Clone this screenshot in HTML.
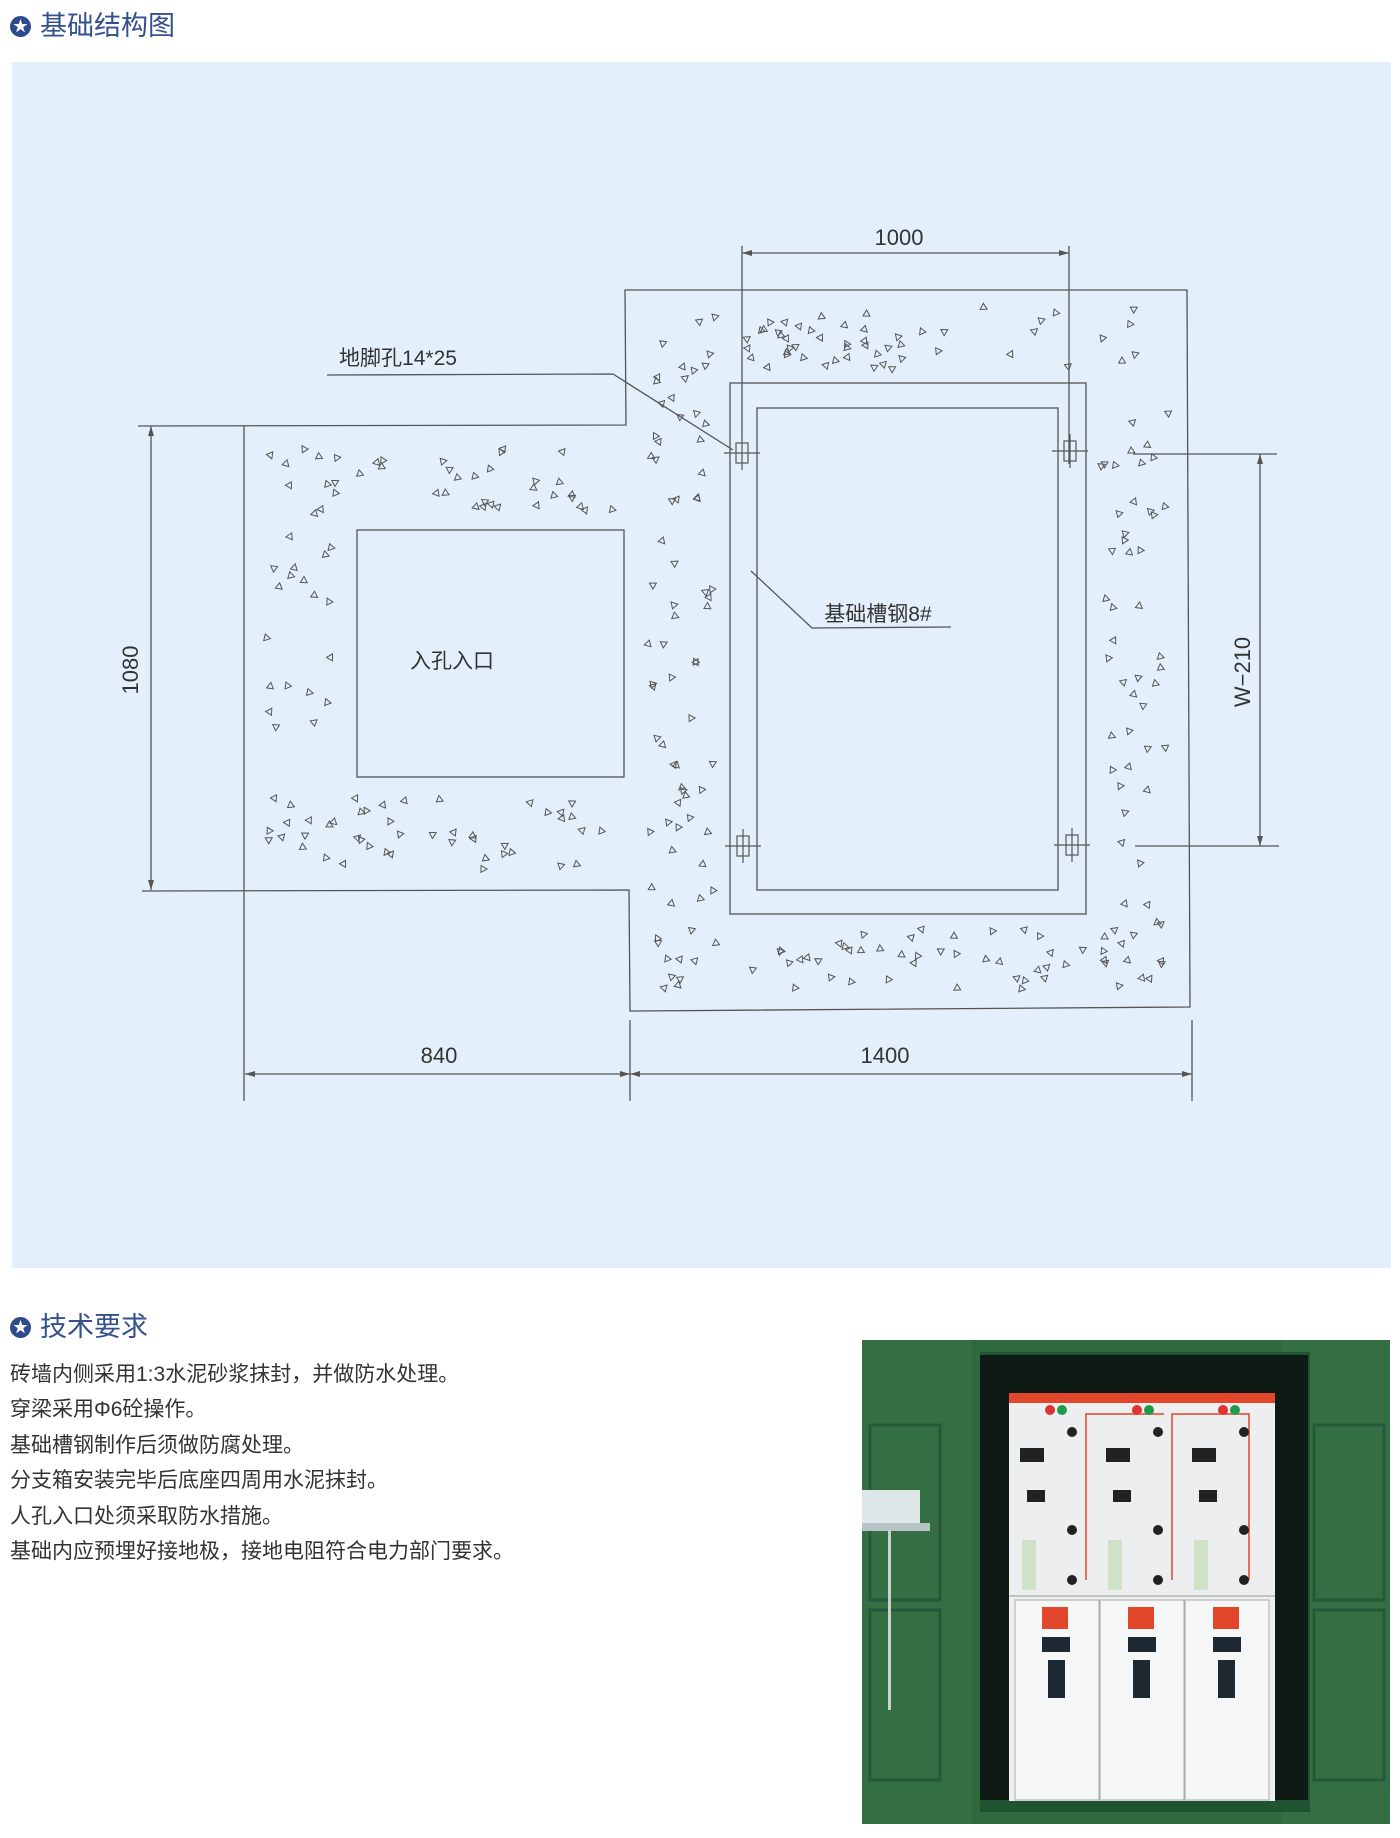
<!DOCTYPE html>
<html><head><meta charset="utf-8"><style>
html,body{margin:0;padding:0;background:#fff;width:1400px;height:1838px;overflow:hidden;position:relative;font-family:"Liberation Sans","Noto Sans CJK SC",sans-serif;}
.h{position:absolute;left:10px;color:#34508f;font-size:27px;line-height:32px;display:flex;align-items:center;}
.star{width:21px;height:21px;border-radius:50%;background:#2c4a8c;color:#fff;font-size:15px;line-height:21px;text-align:center;margin-right:9px;}
.t{position:absolute;left:10px;font-size:21px;color:#333;line-height:26px;white-space:nowrap;}
</style></head><body>
<div class="h" style="top:10px"><span class="star">★</span>基础结构图</div>
<div style="position:absolute;left:12px;top:62px;width:1379px;height:1206px;background:#e3f0fb"></div>
<svg id="d" width="1400" height="1300" style="position:absolute;left:-2px;top:-1px" font-family="Liberation Sans,Noto Sans CJK SC,sans-serif">
<g fill="none" stroke="#555" stroke-width="1.3">
<polyline points="140,427 628,426 627,291 1189,291 1192,1008 632,1012 631,891 144,892"/>
<line x1="246" y1="427" x2="246" y2="1102"/>
<rect x="359" y="531" width="267" height="247"/>
<rect x="732" y="384" width="356" height="531"/>
<rect x="759" y="409" width="301" height="482"/>
<line x1="744" y1="247" x2="744" y2="438"/><line x1="1071" y1="247" x2="1071" y2="465"/>
<line x1="744" y1="254" x2="1071" y2="254"/>
<line x1="153" y1="427" x2="153" y2="891"/>
<line x1="1135" y1="455" x2="1279" y2="455"/><line x1="1137" y1="847" x2="1281" y2="847"/>
<line x1="1262" y1="455" x2="1262" y2="847"/>
<line x1="247" y1="1075" x2="1194" y2="1075"/>
<line x1="632" y1="1021" x2="632" y2="1102"/><line x1="1194" y1="1021" x2="1194" y2="1102"/>
<polyline points="329,376 615,375 735,451"/>
<polyline points="753,572 814,629 953,628"/>
</g>
<g fill="#555">
<polygon points="744,254 754,251 754,257"/><polygon points="1071,254 1061,251 1061,257"/>
<polygon points="153,427 150,437 156,437"/><polygon points="153,891 150,881 156,881"/>
<polygon points="1262,455 1259,465 1265,465"/><polygon points="1262,847 1259,837 1265,837"/>
<polygon points="247,1075 257,1072 257,1078"/><polygon points="632,1075 622,1072 622,1078"/>
<polygon points="632,1075 642,1072 642,1078"/><polygon points="1194,1075 1184,1072 1184,1078"/>
</g>
<g id="bolts" fill="none" stroke="#555" stroke-width="1.2"></g>
<g id="tri" fill="none" stroke="#555" stroke-width="1"></g>
<g fill="#333" font-size="22">
<text x="901" y="246" text-anchor="middle">1000</text>
<text x="441" y="1064" text-anchor="middle">840</text>
<text x="887" y="1064" text-anchor="middle">1400</text>
<text x="400" y="366" text-anchor="middle" font-size="21">地脚孔14*25</text>
<text x="880" y="622" text-anchor="middle" font-size="21">基础槽钢8#</text>
<text x="454" y="669" text-anchor="middle" font-size="21">入孔入口</text>
<text transform="translate(140,671) rotate(-90)" text-anchor="middle">1080</text>
<text transform="translate(1252,673) rotate(-90)" text-anchor="middle">W−210</text>
</g>
</svg>
<div class="h" style="top:1311px"><span class="star">★</span>技术要求</div>
<div class="t" style="top:1362px">砖墙内侧采用1:3水泥砂浆抹封，并做防水处理。</div>
<div class="t" style="top:1397px">穿梁采用Φ6砼操作。</div>
<div class="t" style="top:1433px">基础槽钢制作后须做防腐处理。</div>
<div class="t" style="top:1468px">分支箱安装完毕后底座四周用水泥抹封。</div>
<div class="t" style="top:1504px">人孔入口处须采取防水措施。</div>
<div class="t" style="top:1539px">基础内应预埋好接地极，接地电阻符合电力部门要求。</div>
<svg width="528" height="484" style="position:absolute;left:862px;top:1340px">
<rect width="528" height="484" fill="#2f6a3e"/>
<rect x="0" y="0" width="110" height="484" fill="#336f42"/>
<rect x="420" y="0" width="108" height="484" fill="#336f42"/>
<rect x="8" y="85" width="70" height="175" fill="none" stroke="#25583a" stroke-width="3"/>
<rect x="8" y="270" width="70" height="170" fill="none" stroke="#25583a" stroke-width="3"/>
<rect x="452" y="85" width="70" height="175" fill="none" stroke="#25583a" stroke-width="3"/>
<rect x="452" y="270" width="70" height="170" fill="none" stroke="#25583a" stroke-width="3"/>
<rect x="0" y="150" width="58" height="35" fill="#dfe6e8"/>
<rect x="0" y="183" width="68" height="8" fill="#b8c3c8"/>
<rect x="26" y="190" width="3" height="180" fill="#c9d0d3"/>
<rect x="118" y="12" width="330" height="460" fill="#1f5433"/>
<rect x="118" y="15" width="328" height="445" fill="#0f1a14"/>
<rect x="147" y="53" width="266" height="408" fill="#eceeef"/>
<rect x="147" y="53" width="266" height="10" fill="#e2472b"/>
<g fill="none" stroke="#e2472b" stroke-width="1.5"><polyline points="224,240 224,74 302,74"/><polyline points="310,240 310,74 387,74 387,240"/></g>
<g fill="#d33"><circle cx="188" cy="70" r="5"/><circle cx="275" cy="70" r="5"/><circle cx="361" cy="70" r="5"/></g>
<g fill="#1f9a49"><circle cx="200" cy="70" r="5"/><circle cx="287" cy="70" r="5"/><circle cx="373" cy="70" r="5"/></g>
<g fill="#222"><circle cx="210" cy="92" r="5"/><circle cx="296" cy="92" r="5"/><circle cx="382" cy="92" r="5"/>
<circle cx="210" cy="190" r="5"/><circle cx="296" cy="190" r="5"/><circle cx="382" cy="190" r="5"/>
<circle cx="210" cy="240" r="5"/><circle cx="296" cy="240" r="5"/><circle cx="382" cy="240" r="5"/>
<rect x="158" y="108" width="24" height="14"/><rect x="244" y="108" width="24" height="14"/><rect x="330" y="108" width="24" height="14"/>
<rect x="165" y="150" width="18" height="12"/><rect x="251" y="150" width="18" height="12"/><rect x="337" y="150" width="18" height="12"/></g>
<g fill="#cfe2c8"><rect x="160" y="200" width="14" height="50"/><rect x="246" y="200" width="14" height="50"/><rect x="332" y="200" width="14" height="50"/></g>
<line x1="147" y1="256" x2="413" y2="256" stroke="#999"/>
<g fill="#f5f6f6" stroke="#aaa"><rect x="153" y="260" width="84" height="200"/><rect x="238" y="260" width="84" height="200"/><rect x="323" y="260" width="84" height="200"/></g>
<g fill="#e2472b"><rect x="180" y="267" width="26" height="22"/><rect x="266" y="267" width="26" height="22"/><rect x="351" y="267" width="26" height="22"/></g>
<g fill="#1d2a33"><rect x="180" y="297" width="28" height="15"/><rect x="266" y="297" width="28" height="15"/><rect x="351" y="297" width="28" height="15"/>
<rect x="186" y="320" width="17" height="38"/><rect x="271" y="320" width="17" height="38"/><rect x="356" y="320" width="17" height="38"/></g>
</svg>
<script>
var NS="http://www.w3.org/2000/svg";
var b=document.getElementById('bolts');
[[744,454],[1072,452],[745,847],[1074,846]].forEach(function(p){
 var r=document.createElementNS(NS,'rect');r.setAttribute('x',p[0]-6);r.setAttribute('y',p[1]-10);r.setAttribute('width',12);r.setAttribute('height',20);b.appendChild(r);
 var l=document.createElementNS(NS,'path');l.setAttribute('d','M'+(p[0]-18)+' '+p[1]+'h36M'+p[0]+' '+(p[1]-17)+'v34');b.appendChild(l);});
var s=12345;function rnd(){s=(s*16807)%2147483647;return s/2147483647;}
var g=document.getElementById('tri');var n=0,tries=0;
function inside(x,y){
 var L=(x>268&&x<620&&y>450&&y<870);
 var R=(x>650&&x<1172&&y>308&&y<992);
 if(!(L||R))return false;
 if(x>345&&x<642&&y>515&&y<795)return false;
 if(x>718&&x<1102&&y>370&&y<930)return false;
 return true;}
while(n<330&&tries<20000){tries++;var x=260+rnd()*920,y=300+rnd()*700;if(!inside(x,y))continue;
 var a=rnd()*6.28,d="",k;for(k=0;k<3;k++){var an=a+k*2.094;d+=(k?"L":"M")+(x+4*Math.cos(an)).toFixed(1)+" "+(y+4*Math.sin(an)).toFixed(1);}
 var p=document.createElementNS(NS,'path');p.setAttribute('d',d+"Z");g.appendChild(p);n++;}
</script>
</body></html>
